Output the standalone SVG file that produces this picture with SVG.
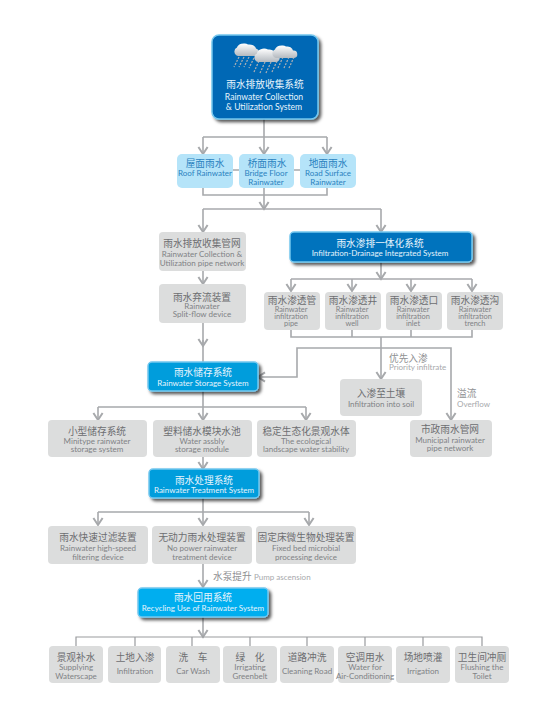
<svg xmlns="http://www.w3.org/2000/svg" width="546" height="713" viewBox="0 0 546 713">
<style>
text{text-anchor:middle}
.c{font:9.7px "Noto Sans CJK SC","Noto Sans",sans-serif}
.e{font:8px Lato,"Noto Sans",sans-serif}
.g .e.s{font-size:7.4px}
.m{font-size:8.6px}
.g .c{fill:#6d6e71}.g .e{fill:#808285}
.g rect{fill:#dcdddd}
.l rect{fill:#b5e4f9}
.l text{fill:#2a82bf}
.b rect{stroke:#74c7ee;stroke-width:1.5;filter:url(#sh)}
.b text{fill:#e6f4fc}
.lab .c{fill:#8f9193;text-anchor:start}.lab .e{fill:#a7a9ac;text-anchor:start}
#connectors path{fill:none;stroke:#a7a9ac;stroke-width:1.6}
#connectors .a{marker-end:url(#ah)}
#connectors .t{stroke:#999b9e;stroke-width:1.2}
#rain path{stroke:#a6adb5;stroke-width:1.3;stroke-dasharray:2 1.4;fill:none}
</style>
<defs>
<filter id="sh" x="-20%" y="-30%" width="140%" height="170%"><feDropShadow dx="2.5" dy="2.5" stdDeviation="1.5" flood-color="#000" flood-opacity=".65"/></filter>
<marker id="ah" markerUnits="userSpaceOnUse" markerWidth="12" markerHeight="12" refX="10" refY="6" orient="auto"><path d="M3,1.4L10,6L3,10.6" fill="none" stroke="#a7a9ac" stroke-width="2"/></marker>
<linearGradient id="cl" x1="0" y1="0" x2="0" y2="1"><stop offset="0" stop-color="#fff"/><stop offset="1" stop-color="#b4b9bf"/></linearGradient>
</defs>
<g id="connectors">
<path d="M264,119V137M203,137H327"/>
<path class="a" d="M203,137V154"/><path class="a" d="M264,137V154"/><path class="a" d="M327,137V154"/>
<path d="M233,170H239M294,170H300"/>
<path d="M203,188V195H327V188"/><path class="a" d="M264,188V209"/>
<path d="M203,209H381"/><path class="a" d="M203,209V232"/><path class="a" d="M381,209V232"/>
<path class="a" d="M203,271V284"/><path class="a" d="M203,323V346"/><path d="M203,340V362"/>
<path class="a" d="M381,262V279"/><path d="M291,279H472"/>
<path class="a" d="M291,279V291"/><path class="a" d="M352,279V291"/><path class="a" d="M411,279V291"/><path class="a" d="M472,279V291"/>
<path d="M291,330V337H472V330M352,330V337M411,330V337"/>
<path class="a" d="M381,337V379"/>
<path class="a" d="M374,348H297V377H258"/>
<path class="a" d="M374,348H451V420"/>
<path d="M203,391V407M98,407H306"/>
<path class="a" d="M98,407V420"/><path class="a" d="M203,407V420"/><path class="a" d="M306,407V420"/>
<path class="a" d="M203,457V469"/>
<path d="M203,498V512M98,512H309"/>
<path class="a" d="M98,512V525"/><path class="a" d="M203,512V525"/><path class="a" d="M309,512V525"/>
<path class="a" d="M203,564V587"/>
<path class="a" d="M203,617V637"/>
<path class="t" d="M76,646V637H482V646M135,637V646M192,637V646M250,637V646M307,637V646M365,637V646M423,637V646"/>
</g>
<g id="main" class="b">
<rect x="212" y="35" width="106" height="84" rx="7" fill="#0067b5"/>
<g id="rain"><path d="M239,57L234,67M244,57L239,67M249,57L244,67M254,58L249,68M259,61L254,72M265,62L260,73M271,62L266,73M277,61L272,72M283,57L278,68M289,57L284,68M294,57L289,68"/></g>
<g id="clouds" fill="url(#cl)">
<path d="M238,56a4.500,4.500 0 0 1 -1,-8.500a7,5 0 0 1 11,-3a7,5 0 0 1 8,4a4,4 0 0 1 1,7.500z"/>
<path d="M258,62a4.500,4.500 0 0 1 -1,-8.500a7,5 0 0 1 11,-4a6,5 0 0 1 7,4a4,4 0 0 1 1,8.500z"/>
<path d="M276,58a4.500,4.500 0 0 1 -1,-8.500a7,5 0 0 1 11,-3a6,5 0 0 1 7,4a3.500,3.500 0 0 1 1,7.500z"/>
</g>
<text class="c" x="265" y="88">雨水排放收集系统</text>
<text class="e m" x="264" y="100">Rainwater Collection</text>
<text class="e m" x="264" y="110">&amp; Utilization System</text>
</g>
<g id="roof" class="l"><rect x="177" y="154" width="56" height="34" rx="5"/><text class="c" x="205" y="167">屋面雨水</text><text class="e" x="205" y="176">Roof Rainwater</text></g>
<g id="bridge" class="l"><rect x="239" y="154" width="55" height="34" rx="5"/><text class="c" x="267" y="167">桥面雨水</text><text class="e" x="266" y="176">Bridge Floor</text><text class="e" x="266" y="185">Rainwater</text></g>
<g id="road" class="l"><rect x="300" y="154" width="56" height="34" rx="5"/><text class="c" x="328" y="167">地面雨水</text><text class="e" x="328" y="176">Road Surface</text><text class="e" x="328" y="185">Rainwater</text></g>
<g id="pipe-network" class="g"><rect x="159" y="232" width="87" height="39" rx="4"/><text class="c" x="202" y="247">雨水排放收集管网</text><text class="e" x="202" y="257">Rainwater Collection &amp;</text><text class="e" x="202" y="266">Utilization pipe network</text></g>
<g id="split-flow" class="g"><rect x="159" y="284" width="87" height="39" rx="4"/><text class="c" x="202" y="301">雨水弃流装置</text><text class="e" x="202" y="309">Rainwater</text><text class="e" x="202" y="317">Split-flow device</text></g>
<g id="integrated" class="b"><rect x="290" y="232" width="182" height="30" rx="4" fill="#0073bd"/><text class="c" x="380" y="247">雨水渗排一体化系统</text><text class="e" x="380" y="256">Infiltration-Drainage Integrated System</text></g>
<g id="inf-pipe" class="g"><rect x="264" y="292" width="56" height="38" rx="4"/><text class="c" x="292" y="304">雨水渗透管</text><text class="e s" x="291" y="312">Rainwater</text><text class="e s" x="291" y="319">infiltration</text><text class="e s" x="291" y="326">pipe</text></g>
<g id="inf-well" class="g"><rect x="325" y="292" width="56" height="38" rx="4"/><text class="c" x="353" y="304">雨水渗透井</text><text class="e s" x="352" y="312">Rainwater</text><text class="e s" x="352" y="319">infiltration</text><text class="e s" x="352" y="326">well</text></g>
<g id="inf-inlet" class="g"><rect x="386" y="292" width="56" height="38" rx="4"/><text class="c" x="414" y="304">雨水渗透口</text><text class="e s" x="413" y="312">Rainwater</text><text class="e s" x="413" y="319">infiltration</text><text class="e s" x="413" y="326">inlet</text></g>
<g id="inf-trench" class="g"><rect x="447" y="292" width="56" height="38" rx="4"/><text class="c" x="475" y="304">雨水渗透沟</text><text class="e s" x="475" y="312">Rainwater</text><text class="e s" x="475" y="319">infiltration</text><text class="e s" x="475" y="326">trench</text></g>
<g id="storage" class="b"><rect x="148" y="362" width="110" height="29" rx="4" fill="#009ddc"/><text class="c" x="203" y="376">雨水储存系统</text><text class="e" x="203" y="386">Rainwater Storage System</text></g>
<g id="priority" class="lab"><text class="c" x="389" y="362">优先入渗</text><text class="e" x="389" y="370">Priority infiltrate</text></g>
<g id="soil" class="g"><rect x="340" y="379" width="82" height="37" rx="4"/><text class="c" x="381" y="397">入渗至土壤</text><text class="e" x="381" y="407">Infiltration into soil</text></g>
<g id="overflow" class="lab"><text class="c" x="457" y="397">溢流</text><text class="e" x="457" y="407">Overflow</text></g>
<g id="municipal" class="g"><rect x="410" y="420" width="82" height="37" rx="4"/><text class="c" x="450" y="433">市政雨水管网</text><text class="e" x="450" y="443">Municipal rainwater</text><text class="e" x="450" y="451">pipe network</text></g>
<g id="minitype" class="g"><rect x="48" y="420" width="99" height="37" rx="4"/><text class="c" x="97" y="435">小型储存系统</text><text class="e" x="97" y="444">Minitype rainwater</text><text class="e" x="97" y="452">storage system</text></g>
<g id="module" class="g"><rect x="153" y="420" width="99" height="37" rx="4"/><text class="c" x="202" y="435">塑料储水模块水池</text><text class="e" x="202" y="444">Water assbly</text><text class="e" x="202" y="452">storage module</text></g>
<g id="landscape" class="g"><rect x="257" y="420" width="99" height="37" rx="4"/><text class="c" x="306" y="435">稳定生态化景观水体</text><text class="e" x="306" y="444">The ecological</text><text class="e" x="306" y="452">landscape water stability</text></g>
<g id="treatment" class="b"><rect x="149" y="469" width="110" height="29" rx="4" fill="#009ddc"/><text class="c" x="204" y="484">雨水处理系统</text><text class="e" x="204" y="493">Rainwater Treatment System</text></g>
<g id="filter" class="g"><rect x="48" y="526" width="100" height="38" rx="4"/><text class="c" x="98" y="541">雨水快速过滤装置</text><text class="e" x="98" y="551">Rainwater high-speed</text><text class="e" x="98" y="560">filtering device</text></g>
<g id="nopower" class="g"><rect x="152" y="526" width="100" height="38" rx="4"/><text class="c" x="202" y="541">无动力雨水处理装置</text><text class="e" x="202" y="551">No power rainwater</text><text class="e" x="202" y="560">treatment device</text></g>
<g id="fixedbed" class="g"><rect x="256" y="526" width="100" height="38" rx="4"/><text class="c" x="306" y="541">固定床微生物处理装置</text><text class="e" x="306" y="551">Fixed bed microbial</text><text class="e" x="306" y="560">processing device</text></g>
<g id="pump" class="lab"><text class="c" x="213" y="580">水泵提升</text><text class="e" x="254" y="580">Pump ascension</text></g>
<g id="recycling" class="b"><rect x="138" y="588" width="130" height="29" rx="4" fill="#00aeef"/><text class="c" x="203" y="601">雨水回用系统</text><text class="e" x="203" y="611">Recycling Use of Rainwater System</text></g>
<g id="u1" class="g"><rect x="49" y="646" width="54" height="37" rx="4"/><text class="c" x="76" y="661">景观补水</text><text class="e" x="76" y="670">Supplying</text><text class="e" x="76" y="679">Waterscape</text></g>
<g id="u2" class="g"><rect x="108" y="646" width="53" height="37" rx="4"/><text class="c" x="135" y="661">土地入渗</text><text class="e" x="135" y="674">Infiltration</text></g>
<g id="u3" class="g"><rect x="166" y="646" width="54" height="37" rx="4"/><text class="c" x="193" y="661">洗　车</text><text class="e" x="193" y="674">Car Wash</text></g>
<g id="u4" class="g"><rect x="223" y="646" width="54" height="37" rx="4"/><text class="c" x="250" y="661">绿　化</text><text class="e" x="250" y="670">Irrigating</text><text class="e" x="250" y="679">Greenbelt</text></g>
<g id="u5" class="g"><rect x="280" y="646" width="54" height="37" rx="4"/><text class="c" x="307" y="661">道路冲洗</text><text class="e" x="307" y="674">Cleaning Road</text></g>
<g id="u6" class="g"><rect x="338" y="646" width="54" height="37" rx="4"/><text class="c" x="365" y="661">空调用水</text><text class="e" x="365" y="670">Water for</text><text class="e" x="365" y="679">Air-Conditioning</text></g>
<g id="u7" class="g"><rect x="396" y="646" width="54" height="37" rx="4"/><text class="c" x="423" y="661">场地喷灌</text><text class="e" x="423" y="674">Irrigation</text></g>
<g id="u8" class="g"><rect x="455" y="646" width="54" height="37" rx="4"/><text class="c" x="482" y="661">卫生间冲厕</text><text class="e" x="482" y="670">Flushing the</text><text class="e" x="482" y="679">Toilet</text></g>
</svg>
